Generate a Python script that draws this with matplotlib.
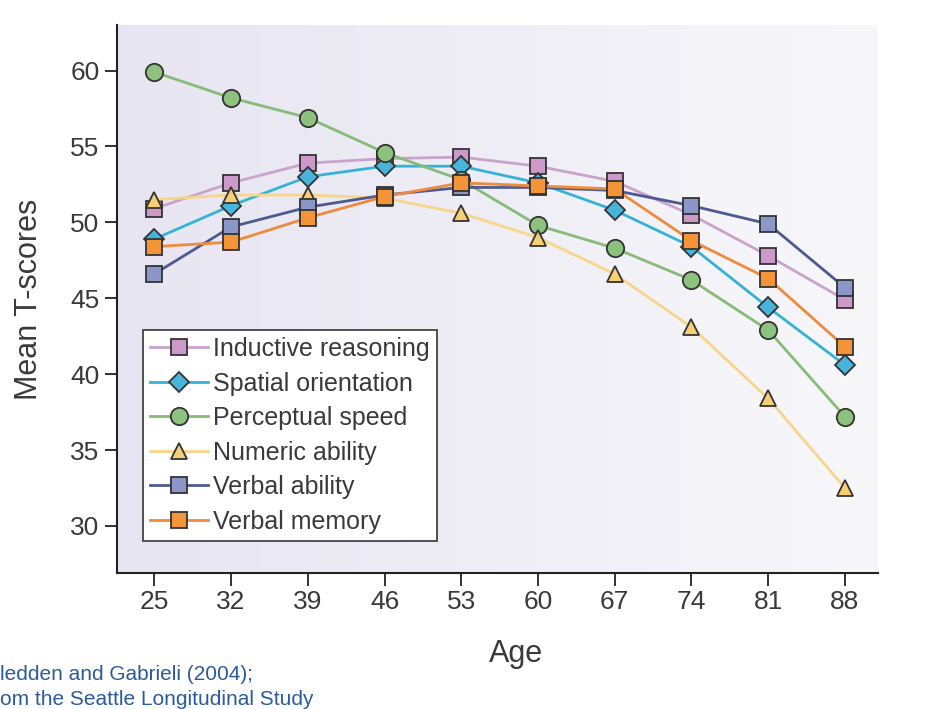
import numpy as np
import matplotlib
matplotlib.use('Agg')
import matplotlib.pyplot as plt
from matplotlib.colors import LinearSegmentedColormap

plt.rcParams['font.family'] = ['Liberation Sans', 'DejaVu Sans']

ages = [25, 32, 39, 46, 53, 60, 67, 74, 81, 88]
inductive = [50.9, 52.6, 53.9, 54.2, 54.3, 53.7, 52.7, 50.5, 47.8, 44.9]
spatial = [48.9, 51.1, 53.0, 53.7, 53.7, 52.6, 50.8, 48.4, 44.4, 40.6]
perceptual = [59.9, 58.2, 56.9, 54.6, 52.8, 49.8, 48.3, 46.2, 42.9, 37.2]
numeric = [51.5, 51.8, 51.8, 51.6, 50.6, 49.0, 46.6, 43.1, 38.4, 32.5]
verbal_ability = [46.6, 49.7, 51.0, 51.8, 52.3, 52.3, 52.1, 51.1, 49.9, 45.7]
verbal_memory = [48.4, 48.7, 50.3, 51.7, 52.6, 52.4, 52.2, 48.8, 46.3, 41.8]

series = [
    ("Inductive reasoning", inductive, 's', '#c9a3cc', '#cc99c9'),
    ("Spatial orientation", spatial, 'D', '#35b3d6', '#47b5db'),
    ("Perceptual speed", perceptual, 'o', '#86bb78', '#8cc27d'),
    ("Numeric ability", numeric, '^', '#f8d58a', '#f6cf74'),
    ("Verbal ability", verbal_ability, 's', '#4c5a91', '#8b97c9'),
    ("Verbal memory", verbal_memory, 's', '#f08a3c', '#f39439'),
]
sizes = {'s': 12, 'o': 12.5, 'D': 10.5, '^': 12}

fig = plt.figure(figsize=(9.25, 7.09), dpi=100)
ax = fig.add_axes([0.1265, 0.1918, 0.8225, 0.7729])

# soft lavender background, fading to the right
grad = LinearSegmentedColormap.from_list('bg', ['#e7e5f1', '#efeef6', '#f8f8fb'])
ax.imshow(np.linspace(0, 1, 256).reshape(1, -1), cmap=grad, aspect='auto',
          extent=[0, 1, 0, 1], transform=ax.transAxes, zorder=0)
ax.set_facecolor('white')

for name, vals, mk, lc, fc in series:
    ax.plot(ages, vals, color=lc, lw=2, marker=mk, markerfacecolor=fc,
            markeredgecolor='#333333', markeredgewidth=1.3,
            markersize=sizes[mk], label=name, zorder=3)

ax.set_xlim(21.6, 91.0)
ax.set_ylim(26.9, 63.0)
ax.set_xticks(ages)
ax.set_yticks([30, 35, 40, 45, 50, 55, 60])

for s in ['top', 'right']:
    ax.spines[s].set_visible(False)
for s in ['left', 'bottom']:
    ax.spines[s].set_color('#222222')
    ax.spines[s].set_linewidth(1.5)

ax.tick_params(axis='both', labelsize=19, colors='#222222', length=9, width=1.3,
               labelcolor='#3a3a3a')
ax.set_xlabel("Age", fontsize=22, color='#3a3a3a', labelpad=18, x=0.524)
ax.set_ylabel("Mean T-scores", fontsize=22, color='#3a3a3a', labelpad=19)

leg = ax.legend(loc='lower left', bbox_to_anchor=(0.034, 0.058), fontsize=18,
                frameon=True, fancybox=False, handlelength=2.3,
                handletextpad=0.2, borderpad=0.3, labelspacing=0.42,
                borderaxespad=0)
leg.get_frame().set_edgecolor('#444444')
leg.get_frame().set_linewidth(1.3)
leg.get_frame().set_facecolor('white')
leg.get_frame().set_alpha(1)
for t in leg.get_texts():
    t.set_color('#3a3a3a')

fig.text(0.0, 0.041, "ledden and Gabrieli (2004);", fontsize=15, color='#2a5b9c')
fig.text(0.0, 0.005, "om the Seattle Longitudinal Study", fontsize=15, color='#2a5b9c')

plt.savefig('out.png', dpi=100)
